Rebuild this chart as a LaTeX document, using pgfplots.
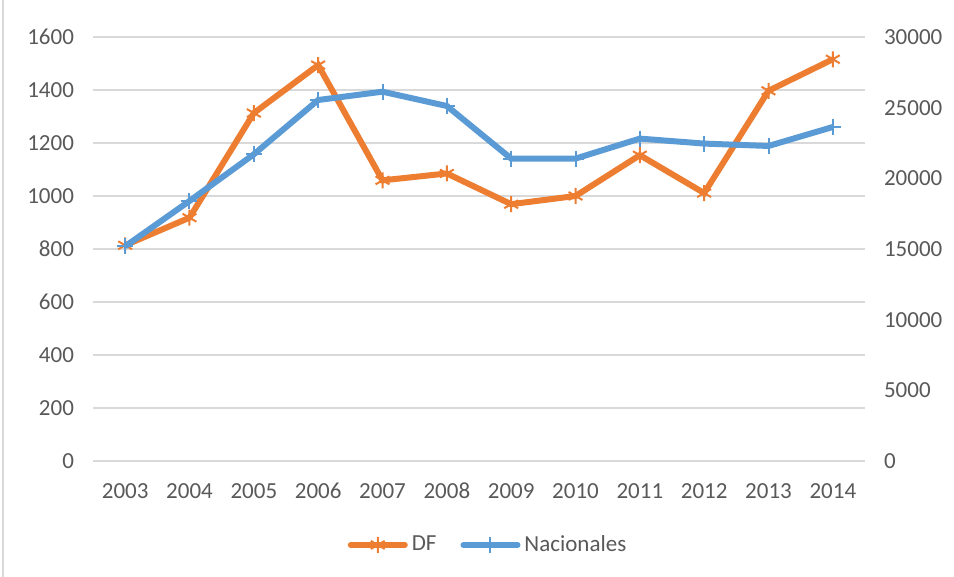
\documentclass[border=0pt]{standalone}
\usepackage{pgfplots}
\pgfplotsset{compat=1.18}
\usepackage{fontspec}
\setmainfont{Carlito}
\definecolor{dforange}{HTML}{ED7D31}
\definecolor{nacblue}{HTML}{5B9BD5}
\definecolor{gridgray}{HTML}{D9D9D9}
\definecolor{labgray}{HTML}{595959}
\begin{document}
\begin{tikzpicture}
\pgfplotsset{
  every axis/.append style={
    scale only axis, width=386pt, height=212pt,
    at={(0,0)}, anchor=south west,
    xmin=-0.5, xmax=11.5,
    axis line style={draw=none},
    tick style={draw=none},
    ticklabel style={font=\fontsize{11.5}{13}\selectfont, text=labgray},
    /pgf/number format/assume math mode=true,
    /pgf/number format/1000 sep={},
    scaled y ticks=false,
  },
}
\begin{axis}[
  ymin=0, ymax=1600, ytick={0,200,...,1600},
  xtick={0,...,11},
  xticklabels={2003,2004,2005,2006,2007,2008,2009,2010,2011,2012,2013,2014},
  ymajorgrids, grid style={gridgray, line width=0.75pt},
  yticklabel style={xshift=-6pt},
  xticklabel style={anchor=base, yshift=-19pt},
]
\addplot[dforange, line width=3pt, mark=asterisk, mark size=4pt, mark options={line width=1pt}] coordinates {
 (0,814) (1,918) (2,1313) (3,1494) (4,1059) (5,1085) (6,969) (7,1000) (8,1154) (9,1011) (10,1397) (11,1516)
};
\end{axis}
\begin{axis}[
  ymin=0, ymax=30000, ytick={0,5000,...,30000},
  axis y line*=right, axis x line=none,
  yticklabel style={xshift=6pt},
  legend style={at={(0.513,-0.198)}, anchor=center, draw=none, fill=none,
    legend columns=2, font=\fontsize{11.5}{13}\selectfont, text=labgray,
    /tikz/every even column/.append style={column sep=10pt}},
  legend cell align=left,
  legend image code/.code={
    \draw[line width=3pt, line cap=round] (0pt,0pt) -- (27pt,0pt);
    \draw[line width=1pt, #1] plot coordinates {(13.5pt,0pt)};
  },
]
\addlegendimage{dforange, mark=asterisk, mark size=4pt}
\addlegendentry{DF}
\addplot[nacblue, line width=3pt, mark=+, mark size=4pt, mark options={line width=1pt}] coordinates {
 (0,15190) (1,18396) (2,21700) (3,25542) (4,26130) (5,25118) (6,21396) (7,21396) (8,22811) (9,22458) (10,22290) (11,23632)
};
\addlegendentry{Nacionales}
\end{axis}
\draw[gridgray, line width=0.75pt] (-45pt,-58pt) -- (-45pt,230.5pt);
\pgfresetboundingbox
\path[use as bounding box] (-46.5pt,-58pt) rectangle (430.5pt,230.5pt);
\end{tikzpicture}
\end{document}
